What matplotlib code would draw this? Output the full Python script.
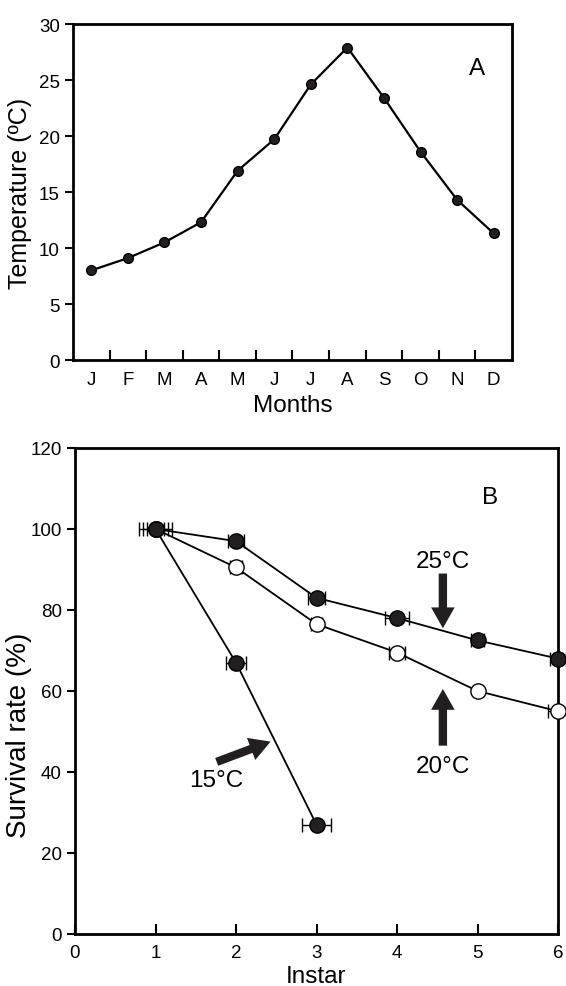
import matplotlib
matplotlib.use("Agg")
import matplotlib.pyplot as plt
import numpy as np

plt.rcParams['font.family'] = ['Liberation Sans', 'DejaVu Sans']

# Panel A data
months = ['J', 'F', 'M', 'A', 'M', 'J', 'J', 'A', 'S', 'O', 'N', 'D']
temperature = [8.0, 9.1, 10.5, 12.3, 16.9, 19.7, 24.6, 27.9, 23.4, 18.6, 14.3, 11.3]

# Panel B data
instar = [1, 2, 3, 4, 5, 6]
surv_25 = [100, 97, 83, 78, 72.5, 68]
err_25 = [0.15, 0.1, 0.1, 0.15, 0.08, 0.1]
surv_20 = [100, 90.5, 76.5, 69.5, 60, 55]
err_20 = [0.1, 0.08, 0.07, 0.1, 0.0, 0.12]
instar_15 = [1, 2, 3]
surv_15 = [100, 67, 27]
err_15 = [0.2, 0.13, 0.18]

W, H = 566, 987
fig = plt.figure(figsize=(W / 100, H / 100), dpi=100)

dark = '#231f20'
TICK = 13.5
LAB = 17.5

# ---------------- Panel A ----------------
axA = fig.add_axes([73 / W, 1 - 361 / H, (512 - 73) / W, (361 - 25) / H])
xm = np.arange(1, len(months) + 1)
axA.plot(xm, temperature, color='black', lw=1.6, marker='o', ms=7,
         mfc=dark, mec='black', zorder=3)
axA.set_xlim(0.5, 12.5)
axA.set_ylim(0, 30)
axA.set_yticks(np.arange(0, 31, 5))
axA.set_xticks(xm)
axA.set_xticklabels(months)
axA.tick_params(axis='x', which='major', length=0, pad=8, labelsize=TICK)
axA.set_xticks(np.arange(1.5, 12, 1), minor=True)
axA.tick_params(axis='x', which='minor', direction='in', length=7, width=1.5)
axA.tick_params(axis='y', direction='out', length=6, width=1.5, labelsize=TICK)
for s in axA.spines.values():
    s.set_linewidth(2)
axA.set_xlabel('Months', fontsize=LAB, labelpad=4)
axA.set_ylabel('Temperature (ºC)', fontsize=18)
axA.yaxis.set_label_coords(-0.093, 0.5)
axA.text(0.92, 0.87, 'A', transform=axA.transAxes, fontsize=LAB,
         ha='center', va='center')

# ---------------- Panel B ----------------
axB = fig.add_axes([75 / W, 1 - 935 / H, (558 - 75) / W, (935 - 449) / H])
axB.errorbar(instar_15, surv_15, xerr=err_15, color='black', lw=1.3,
             marker='o', ms=11, mfc=dark, mec='black', capsize=5,
             elinewidth=1.0, capthick=1.0, zorder=3, clip_on=False)
axB.errorbar(instar, surv_20, xerr=err_20, color='black', lw=1.3,
             marker='o', ms=11, mfc='white', mec='black', capsize=5,
             elinewidth=1.0, capthick=1.0, zorder=4, clip_on=False)
axB.errorbar(instar, surv_25, xerr=err_25, color='black', lw=1.3,
             marker='o', ms=11, mfc=dark, mec='black', capsize=5,
             elinewidth=1.0, capthick=1.0, zorder=5, clip_on=False)
axB.set_xlim(0, 6)
axB.set_ylim(0, 120)
axB.set_xticks(np.arange(0, 7, 1))
axB.set_yticks(np.arange(0, 121, 20))
axB.tick_params(axis='x', direction='in', length=7, width=1.5, pad=7, labelsize=TICK)
axB.tick_params(axis='y', direction='out', length=6, width=1.5, labelsize=TICK)
for s in axB.spines.values():
    s.set_linewidth(2)
axB.set_xlabel('Instar', fontsize=LAB, labelpad=3)
axB.set_ylabel('Survival rate (%)', fontsize=20)
axB.yaxis.set_label_coords(-0.089, 0.41)
axB.text(0.859, 0.899, 'B', transform=axB.transAxes, fontsize=LAB,
         ha='center', va='center')

arrow_kw = dict(arrowstyle='simple,head_width=1.7,head_length=1.5,tail_width=0.6',
                color=dark, lw=0, shrinkA=0, shrinkB=0, mutation_scale=10)
axB.annotate('', xy=(2.43, 47.5), xytext=(1.76, 42.5), arrowprops=arrow_kw)
axB.annotate('', xy=(4.57, 75.5), xytext=(4.57, 89), arrowprops=arrow_kw)
axB.annotate('', xy=(4.57, 60.5), xytext=(4.57, 46.5), arrowprops=arrow_kw)
axB.text(1.75, 38, '15°C', fontsize=LAB, ha='center', va='center')
axB.text(4.57, 92, '25°C', fontsize=LAB, ha='center', va='center')
axB.text(4.57, 41.5, '20°C', fontsize=LAB, ha='center', va='center')

fig.savefig('out.png', dpi=100)
